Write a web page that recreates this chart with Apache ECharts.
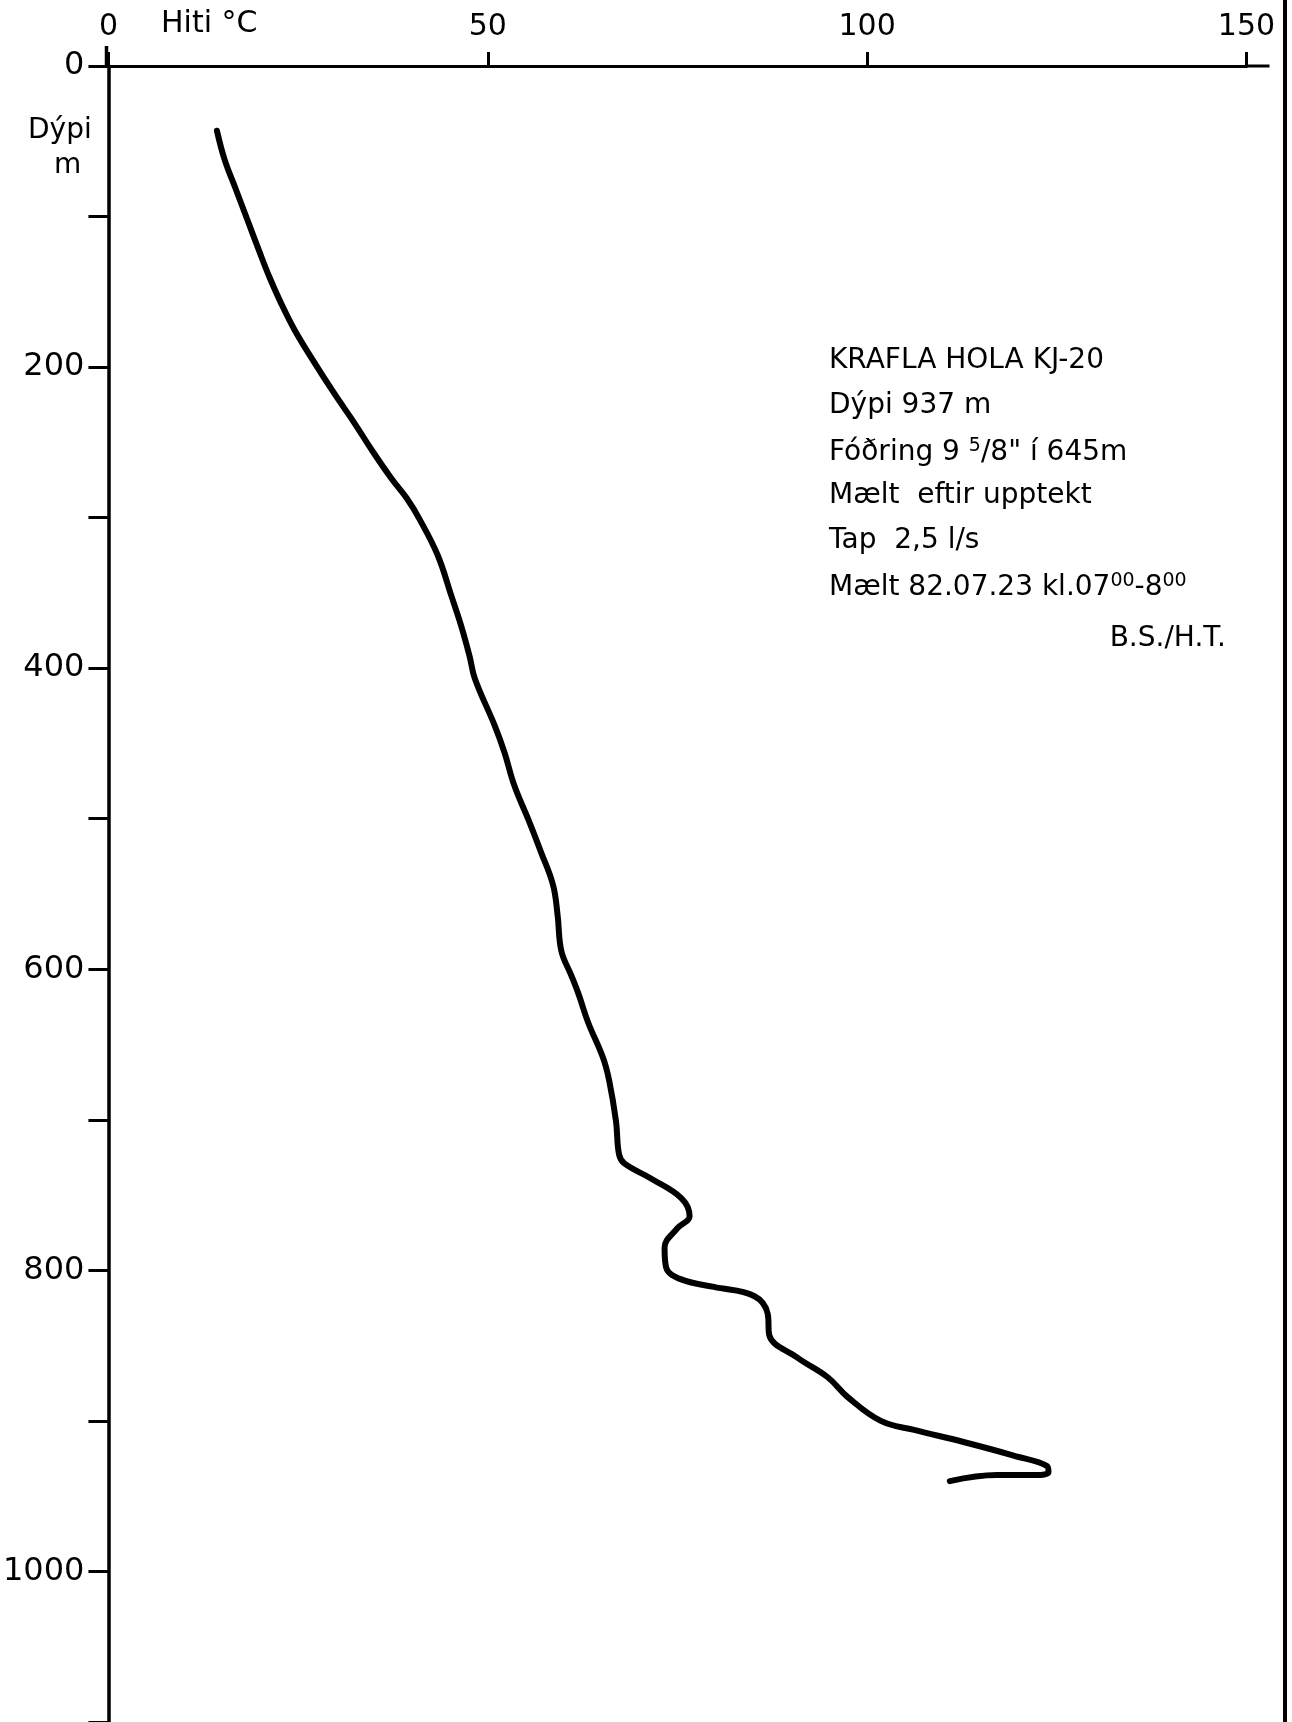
<!DOCTYPE html>
<html>
<head>
<meta charset="utf-8">
<script src="https://cdn.jsdelivr.net/npm/echarts@6/dist/echarts.min.js"></script>
<style>
html,body{margin:0;padding:0;background:#fff;}
#c{width:1292px;height:1722px;}
</style>
</head>
<body>
<div id="c"></div>
<script>
const depths = [43,62,82,102,122,140,157,175,195,217,237,255,274,287,301,325,352,372,392,407,438,456,478,500,522,544,564,588,604,617,635,659,674,701,723,729,739,752,764,772,785,798,806,811,817,829,843,858,871,884,900,906,914,923,930,934,936,936,940];
const temps = [14.3,15.3,16.8,18.3,19.8,21.2,22.7,24.5,26.9,29.7,32.4,34.7,37.3,39.3,41.0,43.4,45.2,46.5,47.6,48.3,50.9,52.2,53.5,55.3,57.0,58.6,59.2,59.7,61.0,62.0,63.2,65.2,66.0,66.9,67.3,68.0,71.5,75.5,76.6,75.0,73.3,73.5,75.5,79.8,85.1,86.9,87.1,90.8,94.8,97.4,101.8,106.2,112.7,119.3,123.7,123.9,122.4,117.1,110.9];
const xTickLabels = [0,50,100,150];
const yTickLabels = [0,200,400,600,800,1000];
const infoLines = [
  'KRAFLA HOLA KJ-20',
  'Dýpi 937 m',
  ['Fóðring 9 ', '5', '/8" í 645m'],
  'Mælt  eftir upptekt',
  'Tap  2,5 l/s',
  ['Mælt 82.07.23 kl.07', '00', '-8', '00'],
];
const signature = 'B.S./H.T.';

const FONT = 'DejaVu Sans';
const PX_PER_DEG = 7.6;
const chart = echarts.init(document.getElementById('c'), null, {renderer:'canvas'});
const seriesData = depths.map((d,i)=>[temps[i], d]);

function richLine(parts){
  if (typeof parts === 'string') return '{a|' + parts + '}';
  return parts.map((p,i)=> (i%2===0 ? '{a|' : '{s|') + p + '}').join('');
}
const richStyle = {
  a:{fontFamily:FONT,fontSize:28,fill:'#000'},
  s:{fontFamily:FONT,fontSize:19,fill:'#000',padding:[0,0,12,0]}
};
const infoGraphics = infoLines.map((ln,i)=>({
  type:'text', left:829, top:347 + i*45,
  style:{text:richLine(ln), rich:richStyle, fill:'#000', font:'28px '+FONT}
}));

const gridLeft = 106.5, gridTop = 66;
const xMax = 150;
const gridRight = gridLeft + xMax*PX_PER_DEG;

chart.setOption({
  animation:false,
  backgroundColor:'#fff',
  grid:{left:gridLeft, top:gridTop, width:xMax*PX_PER_DEG, height:1100*1.5085, containLabel:false},
  xAxis:{
    type:'value', position:'top', min:0, max:xMax, interval:50,
    axisLine:{show:true, lineStyle:{color:'#000', width:3}},
    axisTick:{show:true, length:14, inside:false, lineStyle:{color:'#000', width:3}},
    axisLabel:{show:true, margin:24, color:'#000', fontFamily:FONT, fontSize:30,
      formatter:(v)=> xTickLabels.indexOf(v)>=0 ? String(v) : ''},
    splitLine:{show:false}
  },
  yAxis:{
    type:'value', inverse:true, min:0, max:1100, interval:100,
    axisLine:{show:true, lineStyle:{color:'#000', width:3.5}},
    axisTick:{show:true, length:20, lineStyle:{color:'#000', width:3}},
    axisLabel:{show:true, margin:24, color:'#000', fontFamily:FONT, fontSize:32,
      formatter:(v)=> yTickLabels.indexOf(v)>=0 ? String(v) : ''},
    splitLine:{show:false}
  },
  series:[{
    type:'line', data:seriesData, smooth:0.4, showSymbol:false, symbol:'none',
    lineStyle:{color:'#000', width:6, cap:'round', join:'round'},
    clip:false
  }],
  graphic:[
    {type:'line', shape:{x1:gridLeft,y1:46,x2:gridLeft,y2:gridTop}, style:{stroke:'#000', lineWidth:3.5}},
    {type:'line', shape:{x1:gridRight,y1:gridTop,x2:gridRight+23,y2:gridTop}, style:{stroke:'#000', lineWidth:3}},
    {type:'line', shape:{x1:1285,y1:0,x2:1285,y2:1722}, style:{stroke:'#000', lineWidth:4}},
    {type:'text', left:161, top:9, style:{text:'Hiti °C', fill:'#000', font:'30px '+FONT}},
    {type:'text', left:28, top:117, style:{text:'Dýpi', fill:'#000', font:'28px '+FONT}},
    {type:'text', left:54, top:152, style:{text:'m', fill:'#000', font:'28px '+FONT}},
    ...infoGraphics,
    {type:'text', right:1292-1226, top:347 + 6*45 + 8, style:{text:signature, fill:'#000', font:'28px '+FONT, align:'right'}}
  ]
});
</script>
</body>
</html>
